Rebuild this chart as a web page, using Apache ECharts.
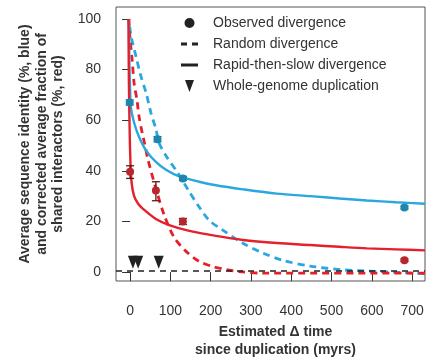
<!DOCTYPE html>
<html>
<head>
<meta charset="utf-8">
<script src="https://cdn.jsdelivr.net/npm/echarts@6/dist/echarts.min.js"></script>
<style>
  html, body { margin: 0; padding: 0; background: #fff; }
  #chart { width: 427px; height: 364px; }
</style>
</head>
<body>
<div id="chart"></div>
<script>
// tick labels
const xTicks = [0, 100, 200, 300, 400, 500, 600, 700];
const yTicks = [0, 20, 40, 60, 80, 100];

// observed divergence: [time, mean, low, high]
const blueObserved = [[-1, 67, 66, 68], [68, 52.5, 51.5, 53.5], [131, 37, 36.2, 37.8], [681, 25.5, 24.9, 26.1]];
const redObserved = [[0, 39.6, 37, 42], [64, 32.2, 28.2, 35.7], [131, 20, 18.8, 21.2], [681, 4.7, 4.2, 5.2]];

// random divergence (dashed)
const blueRandom = [[-1, 97], [2.5, 93], [15, 85], [25, 78.4], [40, 70.6], [52, 62.7], [64, 56.5], [72, 51], [89, 46], [119, 39], [144, 32.5], [169, 26.3], [196, 20.5], [231, 16.5], [280, 11.4], [330, 7.5], [380, 4.6], [447, 2.4], [529, 0.9], [612, 0.3], [732, -0.6]];
const redRandom = [[-3, 100], [0, 92], [5, 84], [10, 74.5], [17, 68], [22, 61.6], [30, 55], [35, 51.5], [44, 44.7], [64, 33], [85, 22.4], [109, 13.8], [139, 8.2], [171, 4.3], [205, 2.2], [240, 1], [270, 0.2], [330, -0.4], [732, -0.4]];

// rapid-then-slow divergence (solid)
const blueRapid = [[-3, 100], [-2, 85], [0, 72], [2, 65], [10, 59], [22, 53.5], [40, 48], [64, 43.5], [90, 40.3], [122, 37.8], [171, 35.7], [213, 34.3], [280, 32.7], [364, 31], [447, 30], [520, 29.1], [588, 28.3], [660, 27.6], [732, 27]];
const redRapid = [[-4, 100], [-3, 75], [-1, 55], [1, 43], [4, 35], [10, 30], [20, 27], [32, 25], [64, 21], [97, 18.6], [147, 16.3], [213, 14.3], [280, 12.7], [364, 11.5], [447, 10.7], [520, 10], [588, 9.4], [660, 9], [732, 8.6]];

// whole-genome duplication events
const wgdTimes = [7, 20, 71];
const wgdLevel = 3.9;
const baselineLevel = 0.6;

const BLUE = '#2aa7df';
const RED = '#e3202c';
const BLUE_PT = '#1d86ad';
const RED_PT = '#b8262b';
const INK = '#222';

const chart = echarts.init(document.getElementById('chart'), null, { renderer: 'canvas' });

function errorBars(color) {
  return function (params, api) {
    const x = api.value(0);
    const lo = api.coord([x, api.value(2)]);
    const hi = api.coord([x, api.value(3)]);
    const cap = 4;
    const style = { stroke: color, lineWidth: 1.3 };
    return {
      type: 'group',
      children: [
        { type: 'line', shape: { x1: lo[0], y1: lo[1], x2: hi[0], y2: hi[1] }, style: style },
        { type: 'line', shape: { x1: lo[0] - cap, y1: lo[1], x2: lo[0] + cap, y2: lo[1] }, style: style },
        { type: 'line', shape: { x1: hi[0] - cap, y1: hi[1], x2: hi[0] + cap, y2: hi[1] }, style: style }
      ]
    };
  };
}

function curve(name, data, color, dashed) {
  return {
    name: name,
    type: 'line',
    data: data,
    smooth: 0.3,
    showSymbol: false,
    symbol: 'none',
    clip: false,
    silent: true,
    lineStyle: dashed
      ? { color: color, width: 2.8, type: [7, 5] }
      : { color: color, width: 2.4 },
    itemStyle: { color: color },
    z: 2
  };
}

const option = {
  animation: false,
  textStyle: { fontFamily: 'Liberation Sans, Arial, sans-serif' },
  grid: {
    left: 116,
    right: 2,
    top: 7,
    bottom: 81,
    show: true,
    borderColor: '#555',
    borderWidth: 1,
    containLabel: false
  },
  legend: {
    orient: 'vertical',
    left: 176,
    top: 10,
    itemWidth: 17,
    itemHeight: 12,
    itemGap: 5,
    selectedMode: false,
    textStyle: {
      fontSize: 14,
      color: '#333',
      lineHeight: 16,
      padding: [0, 0, 0, 10]
    },
    data: [
      { name: 'Observed divergence', icon: 'path://M0,5a5,5 0 1,0 10,0a5,5 0 1,0 -10,0M-1,-1h0.01v0.01h-0.01zM11,11h0.01v0.01h-0.01z', itemStyle: { color: INK, borderWidth: 0, opacity: 1 } },
      { name: 'Random divergence', icon: 'path://M0,0h6v3h-6z M11,0h6v3h-6z', itemStyle: { color: INK, borderWidth: 0, opacity: 1 } },
      { name: 'Rapid-then-slow divergence', icon: 'path://M0,0h17v3h-17z', itemStyle: { color: INK, borderWidth: 0, opacity: 1 } },
      { name: 'Whole-genome duplication', icon: 'path://M0,0L9,0L4.5,12Z', itemStyle: { color: INK, borderWidth: 0, opacity: 1 } }
    ]
  },
  xAxis: {
    type: 'value',
    min: -35,
    max: 732,
    offset: 5,
    name: 'Estimated \u0394 time\nsince duplication (myrs)',
    nameLocation: 'middle',
    nameGap: 37,
    nameTextStyle: { fontSize: 14, fontWeight: 'bold', color: '#333', lineHeight: 18, verticalAlign: 'top', padding: [0, 0, 0, 10] },
    axisLine: { show: false },
    axisTick: { show: true, length: 9, customValues: xTicks, lineStyle: { color: '#333' } },
    axisLabel: { customValues: xTicks, margin: 18, fontSize: 14, color: '#333' },
    splitLine: { show: false }
  },
  yAxis: {
    type: 'value',
    min: -3.5,
    max: 104.7,
    name: 'Average sequence identity (%, blue)\nand corrected average fraction of\nshared interactors (%, red)',
    nameLocation: 'middle',
    nameRotate: 90,
    nameGap: 48,
    nameTextStyle: { fontSize: 14, fontWeight: 'bold', color: '#333', lineHeight: 16.5 },
    axisLine: { show: false },
    axisTick: { show: true, length: 8, customValues: yTicks, lineStyle: { color: '#333' } },
    axisLabel: { customValues: yTicks, margin: 15, fontSize: 14, color: '#333' },
    splitLine: { show: false }
  },
  series: [
    curve('Random divergence', blueRandom, BLUE, true),
    curve('Random divergence', redRandom, RED, true),
    curve('Rapid-then-slow divergence', blueRapid, BLUE, false),
    curve('Rapid-then-slow divergence', redRapid, RED, false),
    {
      name: 'baseline',
      type: 'line',
      data: [],
      markLine: {
        silent: true,
        symbol: 'none',
        label: { show: false },
        lineStyle: { color: INK, width: 1.6, type: [6, 5] },
        data: [{ yAxis: baselineLevel }]
      }
    },
    {
      name: 'Observed divergence',
      type: 'custom',
      data: blueObserved,
      renderItem: errorBars('#1a5f7a'),
      encode: { x: 0, y: [2, 3] },
      z: 3
    },
    {
      name: 'Observed divergence',
      type: 'custom',
      data: redObserved,
      renderItem: errorBars('#5a1a1a'),
      encode: { x: 0, y: [2, 3] },
      z: 3
    },
    {
      name: 'Observed divergence',
      type: 'scatter',
      data: blueObserved.map(d => [d[0], d[1]]),
      symbol: 'circle',
      symbolSize: 8,
      itemStyle: { color: BLUE_PT, opacity: 1 },
      z: 4
    },
    {
      name: 'Observed divergence',
      type: 'scatter',
      data: redObserved.map(d => [d[0], d[1]]),
      symbol: 'circle',
      symbolSize: 8,
      itemStyle: { color: RED_PT, opacity: 1 },
      z: 4
    },
    {
      name: 'Whole-genome duplication',
      type: 'scatter',
      data: wgdTimes.map(t => [t, wgdLevel]),
      symbol: 'path://M0,0L9,0L4.5,12Z',
      symbolSize: [10, 13],
      itemStyle: { color: INK, opacity: 1 },
      z: 5
    }
  ]
};

chart.setOption(option);
</script>
</body>
</html>
